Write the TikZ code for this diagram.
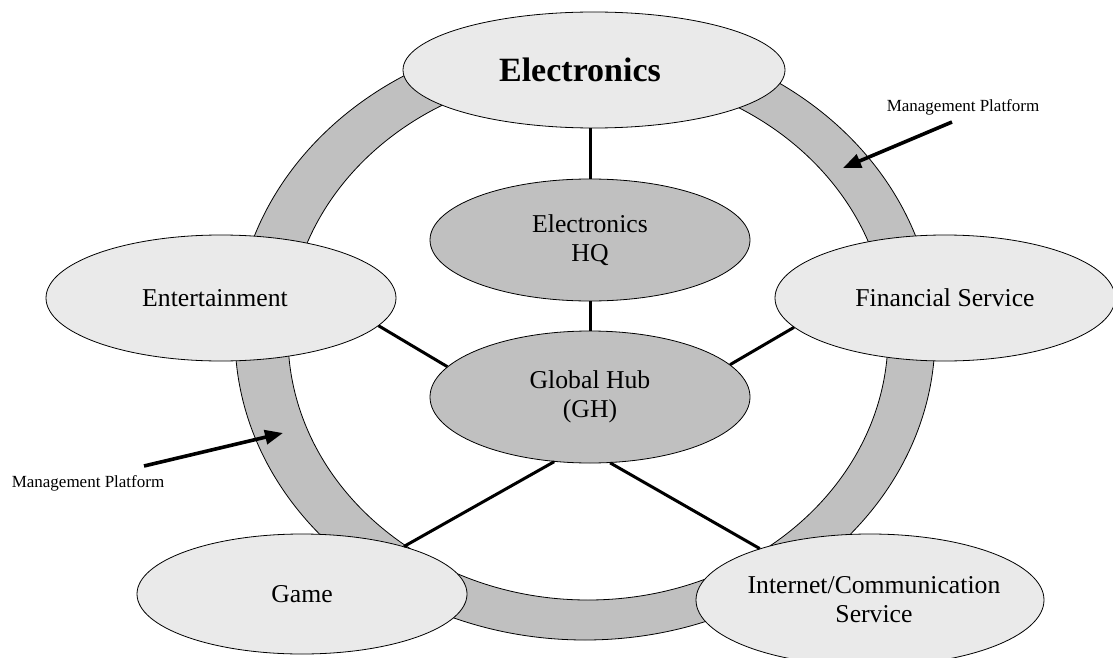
\documentclass[tikz,border=0pt]{standalone}
\usepackage{fontspec}
\setmainfont{Liberation Serif}
\usetikzlibrary{shapes.geometric,arrows.meta}
\definecolor{paleunit}{HTML}{EAEAEA}
\definecolor{coregray}{HTML}{C0C0C0}
\tikzset{
  ell/.style 2 args={ellipse, draw=black, line width=0.8pt, inner sep=0pt,
    minimum width=#1, minimum height=#2},
  unit/.style={fill=paleunit},
  core/.style={fill=coregray},
  txt/.style={align=center, font=\fontsize{25.7}{29}\selectfont, inner sep=0pt},
  bigtxt/.style={font=\fontsize{34}{40}\selectfont\bfseries, inner sep=0pt},
  smalltxt/.style={font=\fontsize{17}{20}\selectfont, inner sep=0pt},
  link/.style={line width=3pt},
  ptr/.style={line width=3.6pt, -{Triangle[length=18pt,width=14pt]}}
}
\begin{document}
\begin{tikzpicture}[x=1pt, y=-1pt]
\useasboundingbox (0,0) rectangle (1113,658);
\clip (0,0) rectangle (1113,658);

% management platform ring
\fill[coregray, even odd rule]
  (585,336) ellipse [x radius=350pt, y radius=304pt]
  (588,336) ellipse [x radius=300pt, y radius=264pt];
\draw[line width=0.8pt] (585,336) ellipse [x radius=350pt, y radius=304pt];
\draw[line width=0.8pt] (588,336) ellipse [x radius=300pt, y radius=264pt];

% business units on the ring
\node[ell={382}{116}, unit, label={[bigtxt, xshift=-14pt]center:Electronics}] (elec) at (594,70) {};
\node[ell={350}{126}, unit, label={[txt, xshift=-6pt]center:Entertainment}] (ent) at (221,298) {};
\node[ell={340}{126}, unit, label={[txt]center:Financial Service}] (fin) at (945,298) {};
\node[ell={330}{120}, unit, label={[txt]center:Game}] (game) at (302,594) {};
\node[ell={348}{132}, unit, label={[txt, xshift=4pt]center:Internet/Communication\\Service}] (inet) at (870,600) {};

% headquarters and hub
\node[ell={320}{122}, core, label={[txt]center:Electronics\\HQ}] (hq) at (590,240) {};
\node[ell={320}{132}, core, label={[txt]center:Global Hub\\(GH)}] (gh) at (590,397) {};

% links
\draw[link] (hq.north |- elec.south) -- (hq.north);
\draw[link] (hq.south) -- (gh.north);
\draw[link] (gh.168.5) -- (ent.-10.2);
\draw[link] (gh.13.9) -- (fin.-169.6);
\draw[link] (gh.-119.6) -- (game.25.5);
\draw[link] (gh.-73) -- (inet.155);

% platform labels and pointers
\node[smalltxt] (mpa) at (963,107) {Management Platform};
\node[smalltxt] (mpb) at (88,483) {Management Platform};
\coordinate (mpaTail) at (952,122);
\coordinate (mpaTip) at (843,168);
\coordinate (mpbTail) at (144,466);
\coordinate (mpbTip) at (283,433);
\draw[ptr] (mpaTail) -- (mpaTip);
\draw[ptr] (mpbTail) -- (mpbTip);
\end{tikzpicture}
\end{document}
